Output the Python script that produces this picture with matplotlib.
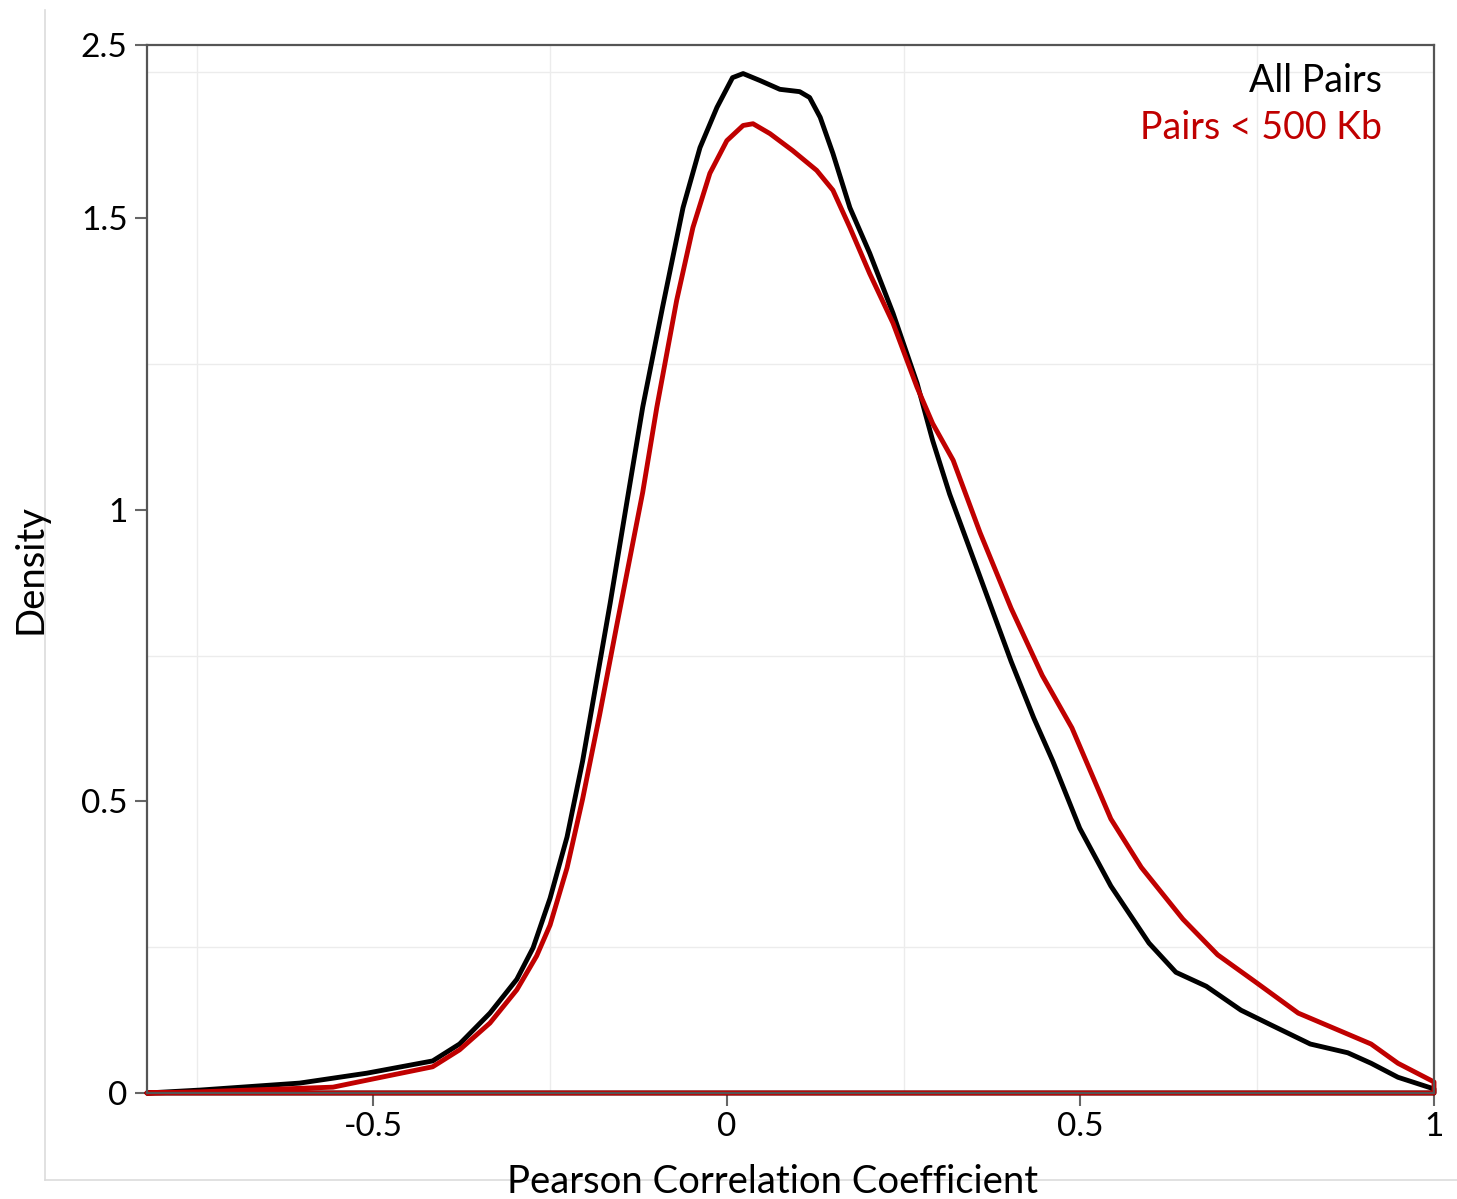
import matplotlib.pyplot as plt
from matplotlib.lines import Line2D

# Density estimates (x = Pearson r)
all_x = [-0.820, -0.745, -0.604, -0.509, -0.416, -0.378, -0.335, -0.297, -0.274, -0.250,
         -0.226, -0.204, -0.184, -0.165, -0.141, -0.119, -0.091, -0.062, -0.038, -0.014,
         0.008, 0.023, 0.047, 0.075, 0.103, 0.117, 0.132, 0.150, 0.174, 0.202,
         0.235, 0.269, 0.291, 0.315, 0.352, 0.402, 0.434, 0.461, 0.499, 0.543,
         0.597, 0.635, 0.678, 0.727, 0.769, 0.825, 0.878, 0.911, 0.949, 1.0]
all_y = [0.0, 0.005, 0.017, 0.034, 0.055, 0.084, 0.137, 0.195, 0.249, 0.334,
         0.439, 0.569, 0.708, 0.840, 1.016, 1.176, 1.347, 1.518, 1.621, 1.690,
         1.741, 1.748, 1.736, 1.721, 1.717, 1.707, 1.673, 1.611, 1.518, 1.440,
         1.337, 1.217, 1.119, 1.027, 0.905, 0.740, 0.643, 0.569, 0.454, 0.355,
         0.257, 0.207, 0.183, 0.142, 0.117, 0.084, 0.069, 0.051, 0.027, 0.007]

near_x = [-0.820, -0.745, -0.557, -0.509, -0.416, -0.378, -0.335, -0.297, -0.269, -0.250,
          -0.226, -0.204, -0.180, -0.156, -0.119, -0.099, -0.071, -0.048, -0.024, 0.0,
          0.023, 0.037, 0.061, 0.093, 0.127, 0.150, 0.174, 0.202, 0.235, 0.269,
          0.291, 0.320, 0.358, 0.402, 0.446, 0.488, 0.543, 0.586, 0.645, 0.694,
          0.748, 0.808, 0.878, 0.911, 0.949, 1.0]
near_y = [0.0, 0.002, 0.010, 0.022, 0.045, 0.074, 0.120, 0.177, 0.235, 0.288,
          0.386, 0.504, 0.648, 0.800, 1.030, 1.176, 1.359, 1.484, 1.577, 1.633,
          1.659, 1.662, 1.645, 1.616, 1.582, 1.548, 1.484, 1.405, 1.320, 1.210,
          1.148, 1.085, 0.961, 0.831, 0.716, 0.626, 0.470, 0.387, 0.298, 0.237,
          0.190, 0.137, 0.101, 0.084, 0.051, 0.019]

xticks = [-0.5, 0, 0.5, 1]
xtick_labels = ['-0.5', '0', '0.5', '1']
yticks = [0, 0.5, 1, 1.5, 1.797]
ytick_labels = ['0', '0.5', '1', '1.5', '2.5']

plt.rcParams['font.family'] = ['Lato', 'DejaVu Sans']

W, H = 1457, 1199
fig = plt.figure(figsize=(W / 100, H / 100), dpi=100)
ax = fig.add_axes([147 / W, 1 - 1093 / H, (1434 - 147) / W, (1093 - 45) / H])

# light outer frame
fig.add_artist(Line2D([45 / W, 45 / W], [1 - 10 / H, 1 - 1180 / H],
                      transform=fig.transFigure, color='#dcdcdc', lw=1.2))
fig.add_artist(Line2D([45 / W, 1.0], [1 - 1180 / H, 1 - 1180 / H],
                      transform=fig.transFigure, color='#dcdcdc', lw=1.2))

ax.plot(all_x + [all_x[-1], all_x[0]], all_y + [0, 0], color='black', lw=3.5,
        solid_joinstyle='round', solid_capstyle='round', clip_on=False)
ax.plot(near_x + [near_x[-1], near_x[0]], near_y + [0, 0], color='#c00000', lw=3.5,
        solid_joinstyle='round', solid_capstyle='round', clip_on=False)

ax.set_xlim(-0.820, 1.0)
ax.set_ylim(0, 1.797)
ax.set_xticks(xticks)
ax.set_xticklabels(xtick_labels)
ax.set_yticks(yticks)
ax.set_yticklabels(ytick_labels)
ax.set_xticks([-0.75, -0.25, 0.25, 0.75], minor=True)
ax.set_yticks([0.25, 0.75, 1.25, 1.75], minor=True)
ax.tick_params(which='minor', length=0)
ax.tick_params(which='major', direction='out', length=9, width=1.5, color='#666666',
               labelsize=24, pad=5)
ax.grid(True, which='minor', color='#ececec', lw=1.0)
ax.set_axisbelow(True)
for s in ax.spines.values():
    s.set_color('#555555')
    s.set_linewidth(1.6)

fig.text(773 / W, 1 - 1182 / H, 'Pearson Correlation Coefficient', fontsize=27.5,
         ha='center', va='center')
fig.text(31 / W, 1 - 569 / H, 'Density', fontsize=27.5, rotation=90,
         ha='center', va='center')

ax.text(0.9596, 0.983, 'All Pairs', transform=ax.transAxes, ha='right', va='top',
        fontsize=27, color='black')
ax.text(0.9596, 0.938, 'Pairs < 500 Kb', transform=ax.transAxes, ha='right', va='top',
        fontsize=27, color='#c00000')

fig.savefig('out.png', dpi=100)
